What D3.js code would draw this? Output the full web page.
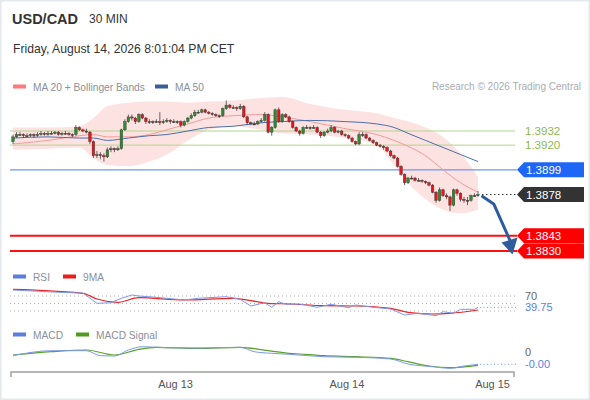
<!DOCTYPE html>
<html>
<head>
<meta charset="utf-8">
<script src="https://cdn.jsdelivr.net/npm/d3@7"></script>
<style>
  body { margin: 0; background: #fff; }
  svg text { font-family: "Liberation Sans", Arial, sans-serif; }
</style>
</head>
<body>
<div id="chart"></div>
<script>
// USD/CAD 30 min candles, oldest first. open of a candle = previous close
var firstOpen = 1.3923;
var closes = [
  1.3927,1.3929,1.3929,1.3928,1.3928,1.3929,1.3928,1.3929,1.3930,1.3929,
  1.3930,1.3930,1.3931,1.3929,1.3930,1.3930,1.3929,1.3929,1.3935,1.3933,
  1.3932,1.3931,1.3923,1.3911,1.3912,1.3911,1.3910,1.3916,1.3917,1.3916,
  1.3917,1.3933,1.3940,1.3944,1.3943,1.3940,1.3946,1.3943,1.3940,1.3940,
  1.3940,1.3940,1.3939,1.3940,1.3941,1.3940,1.3940,1.3940,1.3937,1.3940,
  1.3943,1.3945,1.3948,1.3948,1.3950,1.3948,1.3947,1.3946,1.3945,1.3945,
  1.3951,1.3954,1.3952,1.3952,1.3951,1.3953,1.3944,1.3939,1.3938,1.3938,
  1.3940,1.3941,1.3946,1.3931,1.3935,1.3950,1.3940,1.3946,1.3944,1.3940,
  1.3935,1.3932,1.3930,1.3935,1.3935,1.3935,1.3935,1.3931,1.3928,1.3931,
  1.3932,1.3935,1.3931,1.3932,1.3929,1.3928,1.3926,1.3923,1.3921,1.3929,
  1.3929,1.3926,1.3924,1.3922,1.3920,1.3919,1.3918,1.3915,1.3911,1.3909,
  1.3902,1.3895,1.3888,1.3892,1.3892,1.3890,1.3890,1.3889,1.3888,1.3886,
  1.3880,1.3873,1.3882,1.3877,1.3876,1.3869,1.3882,1.3879,1.3874,1.3873,
  1.3873,1.3877,1.3877,1.3878
];
var highs = [
  1.3929,1.3931,1.3931,1.3930,1.3930,1.3930,1.3930,1.3931,1.3932,1.3931,
  1.3932,1.3932,1.3932,1.3932,1.3931,1.3932,1.3931,1.3930,1.3937,1.3936,
  1.3934,1.3934,1.3932,1.3924,1.3915,1.3914,1.3913,1.3918,1.3919,1.3918,
  1.3919,1.3934,1.3942,1.3946,1.3946,1.3944,1.3947,1.3947,1.3944,1.3942,
  1.3941,1.3942,1.3948,1.3942,1.3943,1.3942,1.3942,1.3941,1.3941,1.3941,
  1.3944,1.3947,1.3950,1.3950,1.3951,1.3951,1.3949,1.3948,1.3947,1.3946,
  1.3952,1.3958,1.3955,1.3954,1.3953,1.3955,1.3954,1.3945,1.3940,1.3940,
  1.3941,1.3943,1.3948,1.3947,1.3936,1.3951,1.3952,1.3947,1.3947,1.3945,
  1.3941,1.3936,1.3933,1.3936,1.3937,1.3936,1.3937,1.3936,1.3932,1.3932,
  1.3934,1.3937,1.3936,1.3933,1.3933,1.3930,1.3929,1.3927,1.3924,1.3931,
  1.3931,1.3930,1.3927,1.3925,1.3923,1.3921,1.3920,1.3919,1.3916,1.3912,
  1.3910,1.3903,1.3896,1.3893,1.3894,1.3893,1.3892,1.3891,1.3890,1.3889,
  1.3887,1.3881,1.3884,1.3883,1.3879,1.3877,1.3883,1.3883,1.3880,1.3876,
  1.3876,1.3878,1.3879,1.3881
];
var lows = [
  1.3921,1.3926,1.3928,1.3926,1.3927,1.3927,1.3926,1.3927,1.3928,1.3928,
  1.3928,1.3929,1.3929,1.3928,1.3928,1.3929,1.3928,1.3927,1.3928,1.3932,
  1.3931,1.3930,1.3921,1.3909,1.3909,1.3908,1.3906,1.3909,1.3914,1.3914,
  1.3915,1.3916,1.3932,1.3939,1.3941,1.3938,1.3939,1.3942,1.3938,1.3938,
  1.3938,1.3939,1.3937,1.3938,1.3939,1.3938,1.3939,1.3938,1.3935,1.3936,
  1.3939,1.3942,1.3944,1.3947,1.3947,1.3947,1.3946,1.3945,1.3944,1.3943,
  1.3944,1.3950,1.3951,1.3951,1.3949,1.3950,1.3943,1.3937,1.3937,1.3937,
  1.3937,1.3939,1.3940,1.3930,1.3928,1.3934,1.3939,1.3939,1.3943,1.3939,
  1.3934,1.3931,1.3928,1.3929,1.3934,1.3933,1.3934,1.3930,1.3926,1.3927,
  1.3930,1.3931,1.3930,1.3930,1.3928,1.3927,1.3925,1.3922,1.3920,1.3920,
  1.3927,1.3925,1.3923,1.3921,1.3919,1.3918,1.3916,1.3914,1.3910,1.3908,
  1.3901,1.3894,1.3886,1.3887,1.3891,1.3889,1.3889,1.3888,1.3887,1.3885,
  1.3879,1.3871,1.3872,1.3876,1.3874,1.3864,1.3868,1.3877,1.3872,1.3871,
  1.3869,1.3872,1.3876,1.3876
];

// moving averages and bollinger bands, read at some candle indexes
var bandIdx   = [0,10,19,23,27,33,39,44,50,56,63,71,77,85,95,104,109,113,118,123,128,133];
var bandUpper = [1.3935,1.3935,1.3936,1.3943,1.3953,1.3956,1.3957,1.3957,1.3956,1.3957,1.3958,1.3960,1.3961,1.3955,1.3950,1.3947,1.3943,1.3940,1.3935,1.3927,1.3913,1.3893];
var bandLower = [1.3916,1.3917,1.3918,1.3909,1.3903,1.3902,1.3906,1.3912,1.3924,1.3933,1.3936,1.3933,1.3930,1.3929,1.3926,1.3920,1.3903,1.3888,1.3874,1.3865,1.3862,1.3865];
var ma20      = [1.3921,1.3924,1.3928,1.3929,1.3927,1.3927,1.3929,1.3933,1.3938,1.3943,1.3945,1.3946,1.3944,1.3940,1.3934,1.3929,1.3924,1.3919,1.3911,1.3899,1.3888,1.3880];
var ma50      = [1.3926,1.3927,1.3926,1.3926,1.3924,1.3926,1.3928,1.3929,1.3932,1.3935,1.3936,1.3939,1.3940,1.3941,1.3940,1.3938,1.3935,1.3930,1.3924,1.3918,1.3912,1.3906];

// RSI panel
var rsiIdx  = [0,13,20,24,28,31,34,36,41,49,53,61,65,68,72,74,76,78,82,87,91,96,98,103,108,112,116,121,123,126,128,132,133];
var rsiVals = [86,79.9,78,50.5,52.1,63.9,72.7,70,66.5,59.3,63.9,68.1,61.2,43.3,52.1,39.9,54.8,47.9,48.7,39.9,47.9,38.8,46,39.9,35.3,19.3,23.9,17.5,28.1,23.9,34.5,34.5,39.75];
var rsiMaIdx  = [0,20,24,30,36,49,63,73,79,89,98,108,113,120,125,133];
var rsiMaVals = [87.9,77.2,62,53.2,65.5,59.3,63.9,50.5,48.7,44.1,43.3,37.2,26.5,22,23.9,32.7];
var rsiLevels = [70, 50, 30];

// MACD panel
var macdIdx  = [0,11,21,25,29,33,37,44,53,65,69,74,79,89,98,108,113,120,125,129,133];
var macdVals = [-0.000185,0.000065,0.000065,-0.000185,-0.0002,0.0001,0.000265,0.000215,0.0002,0.000235,0.000015,-0.000065,-0.000115,-0.000235,-0.000265,-0.00035,-0.0006,-0.000735,-0.000815,-0.0007,-0.000615];
var signalIdx  = [0,11,21,29,36,41,53,65,73,79,82,89,98,108,113,119,125,133];
var signalVals = [-0.00015,0.000015,0.0001,-0.00015,0.000135,0.000235,0.000185,0.000235,0.000065,-0.000065,-0.0001,-0.000185,-0.000235,-0.000315,-0.000485,-0.0007,-0.000785,-0.000665];

// levels
var resistLevels = [1.3932, 1.3920];
var pivotLevel = 1.3899;
var lastPrice = 1.3878;
var targetLevels = [1.3843, 1.3830];

// day labels on the time axis (candle index where the day starts)
var dayLabels = ["Aug 13", "Aug 14", "Aug 15"];
var dayIdx = [46.5, 95.5, 144.5];

var W = 590, H = 400;
var svg = d3.select("#chart").append("svg")
  .attr("width", W).attr("height", H);

svg.append("rect").attr("x", 0.5).attr("y", 0.5).attr("width", W - 1).attr("height", H - 1)
  .attr("fill", "#fff").attr("stroke", "#e3e8ec").attr("stroke-width", 2);

var x = d3.scaleLinear().domain([0, closes.length - 1]).range([13, 478]);
var y = d3.scaleLinear().domain([1.3830, 1.3932]).range([251, 131]);
var yRsi = d3.scaleLinear().domain([30, 70]).range([311, 296]);
var yMacd = d3.scaleLinear().domain([-0.0008, 0]).range([368, 352]);
var left = 10, lineEnd = 517;

// header
svg.append("text").attr("x", 12).attr("y", 24).attr("font-size", 14.5).attr("font-weight", "bold")
  .attr("fill", "#333").text("USD/CAD");
svg.append("text").attr("x", 89).attr("y", 23).attr("font-size", 12).attr("fill", "#333").text("30 MIN");
svg.append("text").attr("x", 13).attr("y", 53).attr("font-size", 12.2).attr("fill", "#333")
  .text("Friday, August 14, 2026 8:01:04 PM CET");
svg.append("text").attr("x", 581).attr("y", 90).attr("font-size", 10).attr("fill", "#a9adb3")
  .attr("text-anchor", "end").text("Research \u00a9 2026 Trading Central");

function legendItem(lx, ly, color, label) {
  svg.append("rect").attr("x", lx).attr("y", ly - 2).attr("width", 13).attr("height", 4).attr("fill", color);
  svg.append("text").attr("x", lx + 20).attr("y", ly + 4).attr("font-size", 10.2).attr("fill", "#8a909a").text(label);
}
legendItem(13, 86.5, "#ff7b7b", "MA 20 + Bollinger Bands");
legendItem(155, 86.5, "#3a5f9a", "MA 50");
legendItem(13, 276.5, "#5b7fe0", "RSI");
legendItem(63, 276.5, "#ee1c1c", "9MA");
legendItem(13, 334.5, "#5b7fe0", "MACD");
legendItem(76, 334.5, "#4f9a1f", "MACD Signal");

// bollinger band
var band = bandIdx.map(function(d, i) {
  return { i: d, hi: bandUpper[i], lo: bandLower[i], m20: ma20[i], m50: ma50[i] };
});
svg.append("path").datum(band)
  .attr("fill", "#fde2e2")
  .attr("d", d3.area().x(function(d) { return x(d.i); })
    .y0(function(d) { return y(d.lo); }).y1(function(d) { return y(d.hi); })
    .curve(d3.curveMonotoneX));

// level lines
resistLevels.forEach(function(v) {
  svg.append("line").attr("x1", left).attr("x2", 515).attr("y1", y(v)).attr("y2", y(v))
    .attr("stroke", "#b3d48c").attr("stroke-width", 1);
  svg.append("text").attr("x", 525).attr("y", y(v) + 4).attr("font-size", 11.5).attr("fill", "#8db84e")
    .text(v.toFixed(4));
});
svg.append("line").attr("x1", left).attr("x2", lineEnd).attr("y1", y(pivotLevel)).attr("y2", y(pivotLevel))
  .attr("stroke", "#6f96ee").attr("stroke-width", 1.2);
targetLevels.forEach(function(v) {
  svg.append("line").attr("x1", left).attr("x2", lineEnd).attr("y1", y(v)).attr("y2", y(v))
    .attr("stroke", "#ff1010").attr("stroke-width", 2);
});

// moving averages
svg.append("path").datum(band).attr("fill", "none").attr("stroke", "#f59a9a").attr("stroke-width", 1)
  .attr("d", d3.line().x(function(d) { return x(d.i); }).y(function(d) { return y(d.m20); }).curve(d3.curveMonotoneX));
svg.append("path").datum(band).attr("fill", "none").attr("stroke", "#4b6fa8").attr("stroke-width", 1)
  .attr("d", d3.line().x(function(d) { return x(d.i); }).y(function(d) { return y(d.m50); }).curve(d3.curveMonotoneX));

// candles
var candles = closes.map(function(c, i) {
  return { i: i, o: i === 0 ? firstOpen : closes[i - 1], c: c, h: highs[i], l: lows[i] };
});
var cg = svg.append("g");
cg.selectAll("line").data(candles).enter().append("line")
  .attr("x1", function(d) { return x(d.i); }).attr("x2", function(d) { return x(d.i); })
  .attr("y1", function(d) { return y(d.h); }).attr("y2", function(d) { return y(d.l); })
  .attr("stroke", "#444").attr("stroke-width", 0.8);
cg.selectAll("rect").data(candles).enter().append("rect")
  .attr("x", function(d) { return x(d.i) - 1.3; })
  .attr("width", 2.6)
  .attr("y", function(d) { return y(Math.max(d.o, d.c)); })
  .attr("height", function(d) { return Math.max(1, Math.abs(y(d.o) - y(d.c))); })
  .attr("fill", function(d) { return d.c > d.o ? "#2f8a2f" : (d.c < d.o ? "#e8141c" : "#444"); })
  .attr("stroke", "#333").attr("stroke-width", 0.4);

// right side tags
function tag(v, fill, txtColor) {
  var yc = y(v);
  svg.append("path")
    .attr("d", "M" + lineEnd + "," + yc + " L" + (lineEnd + 7) + "," + (yc - 7.5) + " L584," + (yc - 7.5) +
      " L584," + (yc + 7.5) + " L" + (lineEnd + 7) + "," + (yc + 7.5) + " Z")
    .attr("fill", fill);
  svg.append("text").attr("x", 526).attr("y", yc + 4).attr("font-size", 11.5).attr("fill", txtColor)
    .text(v.toFixed(4));
}
var lastX = x(closes.length - 1);
svg.append("line").attr("x1", lastX + 4).attr("x2", lineEnd).attr("y1", y(lastPrice)).attr("y2", y(lastPrice))
  .attr("stroke", "#333").attr("stroke-dasharray", "1.5,2.5");
tag(pivotLevel, "#1e66f5", "#fff");
tag(lastPrice, "#333", "#fff");
targetLevels.forEach(function(v) { tag(v, "#ff0000", "#fff"); });

// forecast arrow
var ax0 = x(closes.length), ay0 = y(1.3877);
var ax1 = x(closes.length + 3.5), ay1 = y(1.3870);
var ax2 = x(closes.length + 8.3), ay2 = y(1.3838);
svg.append("path").attr("d", "M" + ax0 + "," + ay0 + " L" + ax1 + "," + ay1 + " L" + ax2 + "," + ay2)
  .attr("fill", "none").attr("stroke", "#2d5d9c").attr("stroke-width", 3).attr("stroke-linejoin", "round");
svg.append("path")
  .attr("d", "M" + (ax2 - 9) + "," + (ay2 + 1) + " L" + (ax2 + 7) + "," + (ay2 - 4) + " L" + (ax2 + 2) + "," + (ay2 + 13) + " Z")
  .attr("fill", "#2d5d9c");

// RSI panel
rsiLevels.forEach(function(v) {
  svg.append("line").attr("x1", left).attr("x2", lineEnd).attr("y1", yRsi(v)).attr("y2", yRsi(v))
    .attr("stroke", "#b0b0b0").attr("stroke-dasharray", "1,3");
});
svg.append("text").attr("x", 525).attr("y", yRsi(70) + 4).attr("font-size", 11).attr("fill", "#666").text("70");
svg.append("path").datum(rsiMaIdx).attr("fill", "none").attr("stroke", "#ee2424").attr("stroke-width", 1.2)
  .attr("d", d3.line().x(function(d) { return x(d); }).y(function(d, i) { return yRsi(rsiMaVals[i]); }).curve(d3.curveMonotoneX));
svg.append("path").datum(rsiIdx).attr("fill", "none").attr("stroke", "#7b98ea").attr("stroke-width", 1)
  .attr("d", d3.line().x(function(d) { return x(d); }).y(function(d, i) { return yRsi(rsiVals[i]); }));
var rsiLast = rsiVals[rsiVals.length - 1];
svg.append("line").attr("x1", lastX + 2).attr("x2", lineEnd).attr("y1", yRsi(rsiLast)).attr("y2", yRsi(rsiLast))
  .attr("stroke", "#7b98ea").attr("stroke-dasharray", "1,2.5");
svg.append("text").attr("x", 525).attr("y", yRsi(rsiLast) + 4).attr("font-size", 11).attr("fill", "#5b7fe0")
  .text(rsiLast.toFixed(2));

// MACD panel
svg.append("text").attr("x", 525).attr("y", yMacd(0) + 4).attr("font-size", 11).attr("fill", "#666").text("0");
svg.append("path").datum(signalIdx).attr("fill", "none").attr("stroke", "#5aa02c").attr("stroke-width", 1.2)
  .attr("d", d3.line().x(function(d) { return x(d); }).y(function(d, i) { return yMacd(signalVals[i]); }).curve(d3.curveMonotoneX));
svg.append("path").datum(macdIdx).attr("fill", "none").attr("stroke", "#7b98ea").attr("stroke-width", 1)
  .attr("d", d3.line().x(function(d) { return x(d); }).y(function(d, i) { return yMacd(macdVals[i]); }).curve(d3.curveMonotoneX));
var macdLast = macdVals[macdVals.length - 1];
svg.append("line").attr("x1", lastX + 2).attr("x2", lineEnd).attr("y1", yMacd(macdLast)).attr("y2", yMacd(macdLast))
  .attr("stroke", "#7b98ea").attr("stroke-dasharray", "1,2.5");
svg.append("text").attr("x", 525).attr("y", yMacd(macdLast) + 4).attr("font-size", 11).attr("fill", "#5b7fe0")
  .text(macdLast.toFixed(2));

// time axis
var axisY = 372, axisEnd = 514;
svg.append("path").attr("d", "M" + (left + 1) + "," + (axisY + 5) + " V" + axisY + " H" + axisEnd + " V" + (axisY + 5))
  .attr("fill", "none").attr("stroke", "#a0a0a0").attr("stroke-width", 1.5);
dayLabels.forEach(function(lbl, k) {
  var t = svg.append("text").attr("y", 388).attr("font-size", 11).attr("fill", "#555")
    .attr("text-anchor", "middle").text(lbl);
  var half = t.node().getComputedTextLength() / 2;
  t.attr("x", Math.min(x(dayIdx[k]), axisEnd - half - 4));
});
</script>
</body>
</html>
